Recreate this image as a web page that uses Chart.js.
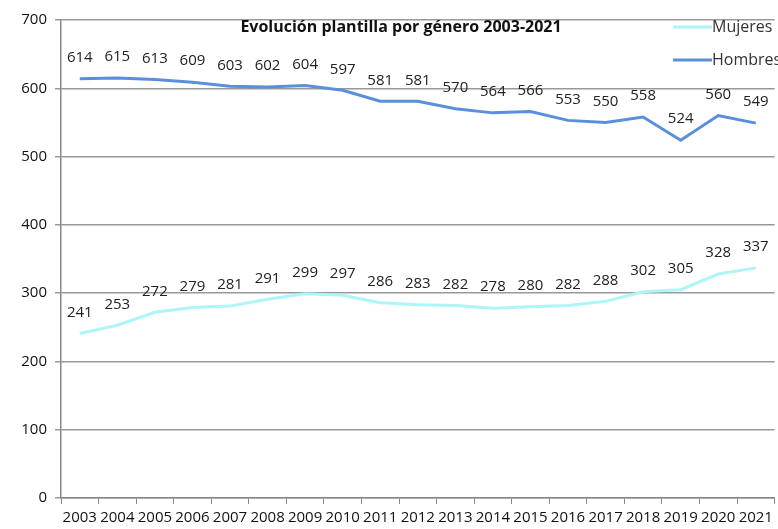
<!DOCTYPE html>
<html>
<head>
<meta charset="utf-8">
<script src="https://cdn.jsdelivr.net/npm/chart.js@4/dist/chart.umd.min.js"></script>
<style>
  html, body { margin: 0; padding: 0; background: #fff; }
  #wrap { width: 778px; height: 529px; }
</style>
</head>
<body>
<div id="wrap"><canvas id="plantilla"></canvas></div>
<script>
const years = ["2003","2004","2005","2006","2007","2008","2009","2010","2011","2012",
               "2013","2014","2015","2016","2017","2018","2019","2020","2021"];
const mujeres = [241,253,272,279,281,291,299,297,286,283,282,278,280,282,288,302,305,328,337];
const hombres = [614,615,613,609,603,602,604,597,581,581,570,564,566,553,550,558,524,560,549];
const titleText = "Evolución plantilla por género 2003-2021";

const fontFam = "'Open Sans', 'Liberation Sans', sans-serif";

// etiquetas de valor encima de cada punto
const valueLabels = {
  id: "valueLabels",
  afterDatasetsDraw(chart) {
    const ctx = chart.ctx;
    ctx.save();
    ctx.font = "15px " + fontFam;
    ctx.fillStyle = "#222";
    ctx.textAlign = "center";
    ctx.textBaseline = "middle";
    chart.data.datasets.forEach((ds, i) => {
      chart.getDatasetMeta(i).data.forEach((pt, j) => {
        ctx.fillText(ds.data[j], pt.x, pt.y - 21);
      });
    });
    ctx.restore();
  }
};

// titulo y leyenda dibujados encima del área del gráfico
const overlay = {
  id: "overlay",
  afterDraw(chart) {
    const ctx = chart.ctx;
    ctx.save();
    ctx.font = "bold 16px " + fontFam;
    ctx.fillStyle = "#111";
    ctx.textAlign = "center";
    ctx.textBaseline = "middle";
    ctx.fillText(titleText, 401, 27);

    ctx.font = "16px " + fontFam;
    ctx.textAlign = "left";
    chart.data.datasets.forEach((ds, i) => {
      const y = 27 + i * 33;
      ctx.strokeStyle = ds.borderColor;
      ctx.lineWidth = 3;
      ctx.beginPath();
      ctx.moveTo(673, y);
      ctx.lineTo(712, y);
      ctx.stroke();
      ctx.fillStyle = "#333";
      ctx.fillText(ds.label, 712, y);
    });
    ctx.restore();
  }
};

new Chart(document.getElementById("plantilla"), {
  type: "line",
  data: {
    labels: years,
    datasets: [
      {
        label: "Mujeres",
        data: mujeres,
        borderColor: "#aef5f7",
        borderWidth: 3,
        pointRadius: 0,
        tension: 0
      },
      {
        label: "Hombres",
        data: hombres,
        borderColor: "#5a8fdb",
        borderWidth: 3,
        pointRadius: 0,
        tension: 0
      }
    ]
  },
  options: {
    responsive: true,
    maintainAspectRatio: false,
    animation: false,
    layout: { padding: { top: 20, right: 2, left: 0, bottom: 0 } },
    plugins: {
      legend: { display: false },
      title: { display: false },
      tooltip: { enabled: false }
    },
    scales: {
      x: {
        offset: true,
        grid: {
          offset: true,
          drawOnChartArea: false,
          drawTicks: true,
          tickLength: 6,
          color: "#888"
        },
        border: { color: "#888", width: 1.5 },
        ticks: {
          color: "#111",
          font: { size: 15, family: fontFam },
          maxRotation: 0,
          autoSkip: false,
          padding: 5
        },
        afterFit(scale) { scale.height = 31; }
      },
      y: {
        min: 0,
        max: 700,
        ticks: {
          stepSize: 100,
          color: "#111",
          font: { size: 15, family: fontFam },
          padding: 8
        },
        grid: {
          color: "#999",
          lineWidth: 1.5,
          tickLength: 6
        },
        border: { color: "#888", width: 1.5 },
        afterFit(scale) { scale.width = 61; }
      }
    }
  },
  plugins: [valueLabels, overlay]
});
</script>
</body>
</html>
